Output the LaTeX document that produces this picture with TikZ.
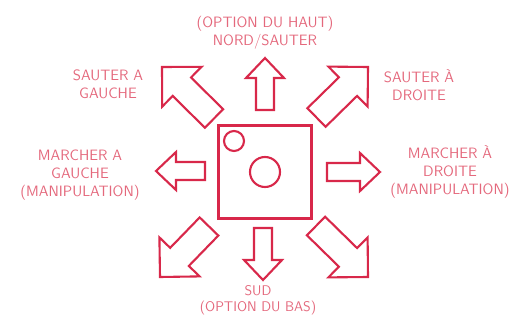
\documentclass[tikz,border=0pt]{standalone}
\usepackage{fontspec}
\usetikzlibrary{calc}
\definecolor{lin}{RGB}{216,40,74}
\definecolor{txt}{RGB}{228,104,124}
\tikzset{
  shapeline/.style={draw=lin, line width=2.1pt, line join=miter},
  lbl/.style={text=txt, align=center, inner sep=0pt,
    font=\sffamily\addfontfeatures{LetterSpace=8}\fontsize{15}{18}\selectfont},
  lblsmall/.style={lbl, font=\sffamily\addfontfeatures{LetterSpace=8}\fontsize{14}{15.5}\selectfont},
}
% #1 tail, #2 tip, #3 shaft half-width, #4 head half-width, #5 head length
\newcommand\blockarrow[5]{%
  \coordinate (ba-b) at ($(#2)!#5!(#1)$);
  \draw[shapeline] ($(#1)!#3!90:(#2)$) -- ($(ba-b)!#3!90:(#2)$) -- ($(ba-b)!#4!90:(#2)$)
    -- (#2) -- ($(ba-b)!#4!-90:(#2)$) -- ($(ba-b)!#3!-90:(#2)$) -- ($(#1)!#3!-90:(#2)$) -- cycle;
}
\begin{document}
\begin{tikzpicture}[x=1pt,y=-1pt]
\useasboundingbox (0,0) rectangle (519,323);
% central square and circles
\draw[shapeline] (218.5,125.5) rectangle (311.5,218.5);
\draw[shapeline] (234,141) circle (10);
\draw[shapeline] (265,172) circle (15);
% straight arrows
\coordinate (upT) at (265,110);  \coordinate (upH) at (265,58);
\coordinate (lfT) at (205,171);  \coordinate (lfH) at (156,171);
\coordinate (rtT) at (327,172);  \coordinate (rtH) at (380,172);
\coordinate (dnT) at (263,228);  \coordinate (dnH) at (263,280);
\blockarrow{upT}{upH}{9pt}{19pt}{20pt}
\blockarrow{lfT}{lfH}{9pt}{19pt}{20pt}
\blockarrow{rtT}{rtH}{9pt}{19pt}{20pt}
\blockarrow{dnT}{dnH}{9pt}{19pt}{20pt}
% diagonal arrows
\coordinate (ulT) at (214,118.5); \coordinate (ulH) at (162,67);
\coordinate (urT) at (316.5,117.5); \coordinate (urH) at (368,67);
\coordinate (llT) at (209,226.5); \coordinate (llH) at (160,277);
\coordinate (lrT) at (316,226); \coordinate (lrH) at (368,277);
\blockarrow{ulT}{ulH}{13pt}{28pt}{28pt}
\blockarrow{urT}{urH}{13pt}{28pt}{28pt}
\blockarrow{llT}{llH}{13pt}{28pt}{28pt}
\blockarrow{lrT}{lrH}{13pt}{28pt}{28pt}
% labels
\node[lbl] (tN) at (265,32.5) {(OPTION DU HAUT)\\NORD/SAUTER};
\node[lbl] (tTL) at (108,84.5) {SAUTER A\\GAUCHE};
\node[lbl] (tTR) at (419,85) {SAUTER À\\DROITE};
\node[lbl] (tML) at (80,175) {MARCHER A\\GAUCHE\\(MANIPULATION)};
\node[lbl] (tMR) at (450,172) {MARCHER À\\DROITE\\(MANIPULATION)};
\node[lblsmall] (tS) at (258,300.5) {SUD\\(OPTION DU BAS)};
\end{tikzpicture}
\end{document}
